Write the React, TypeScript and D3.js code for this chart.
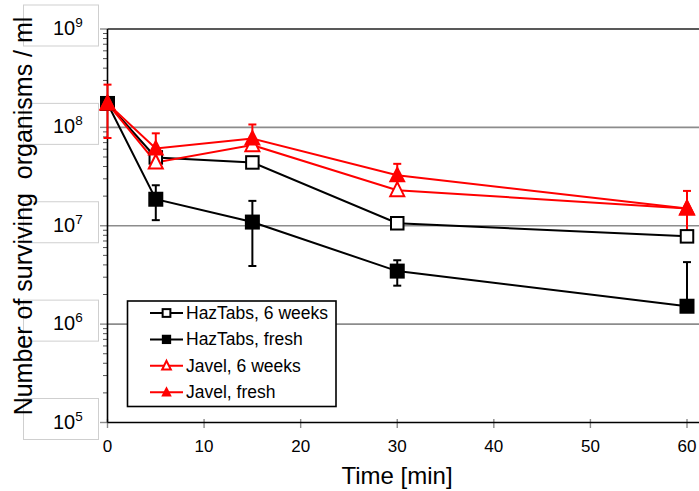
import React from "react";
import * as d3 from "d3";

const times = [0, 5, 15, 30, 60];
const hazTabs6w = [1.75e8, 4.95e7, 4.4e7, 1.06e7, 7.8e6];
const hazTabsFresh = [1.75e8, 1.86e7, 1.09e7, 3.46e6, 1.52e6];
const hazTabsFreshErrPlus = [0, 7.2e6, 7.0e6, 1.0e6, 2.75e6];
const hazTabsFreshErrMinus = [0, 7.2e6, 7.0e6, 1.0e6, 2.75e6];
const javel6w = [1.75e8, 4.4e7, 6.6e7, 2.3e7, 1.5e7];
const javelFresh = [1.75e8, 6.1e7, 7.7e7, 3.26e7, 1.5e7];
const javelFreshErrPlus = [9.7e7, 2.6e7, 3.0e7, 1.0e7, 7.6e6];
const javelFreshErrMinus = [9.7e7, 1.1e7, 1.0e7, 1.0e7, 7.6e6];

const xTicks = [0, 10, 20, 30, 40, 50, 60];
const yDecades = [1e5, 1e6, 1e7, 1e8, 1e9];
const yExponents = ["5", "6", "7", "8", "9"];
const legendLabels = ["HazTabs, 6 weeks", "HazTabs, fresh", "Javel, 6 weeks", "Javel, fresh"];

const FONT = "'Liberation Sans', Arial, sans-serif";

type Series = {
  values: number[];
  errPlus: number[] | null;
  errMinus: number[] | null;
  color: string;
  marker: "squareOpen" | "squareFilled" | "triOpen" | "triFilled";
};

const series: Series[] = [
  { values: hazTabs6w, errPlus: null, errMinus: null, color: "#000", marker: "squareOpen" },
  { values: hazTabsFresh, errPlus: hazTabsFreshErrPlus, errMinus: hazTabsFreshErrMinus, color: "#000", marker: "squareFilled" },
  { values: javel6w, errPlus: null, errMinus: null, color: "#ff0000", marker: "triOpen" },
  { values: javelFresh, errPlus: javelFreshErrPlus, errMinus: javelFreshErrMinus, color: "#ff0000", marker: "triFilled" },
];

function Marker({ kind, x, y, scale, color }: { kind: string; x: number; y: number; scale: number; color: string }) {
  if (kind === "squareOpen") {
    const s = 12.5 * scale;
    return <rect x={x - s / 2} y={y - s / 2} width={s} height={s} fill="#fff" stroke={color} strokeWidth={2} />;
  }
  if (kind === "squareFilled") {
    const s = 15 * scale;
    return <rect x={x - s / 2} y={y - s / 2} width={s} height={s} fill={color} />;
  }
  if (kind === "triOpen") {
    const w = 7 * scale, h1 = 8 * scale, h2 = 6 * scale;
    return (
      <path
        d={`M${x},${y - h1}L${x + w},${y + h2}L${x - w},${y + h2}Z`}
        fill="#fff"
        stroke={color}
        strokeWidth={2}
        strokeLinejoin="miter"
      />
    );
  }
  const w = 8.5 * scale, h1 = 9.5 * scale, h2 = 7 * scale;
  return <path d={`M${x},${y - h1}L${x + w},${y + h2}L${x - w},${y + h2}Z`} fill={color} />;
}

export default function App() {
  const W = 699, H = 491;
  const left = 107.5, right = 699, top = 29, bottom = 422.5;
  const x = d3.scaleLinear().domain([0, 60]).range([107.5, 687]);
  const y = d3.scaleLog().domain([1e5, 1e9]).range([bottom, top]);

  const line = d3
    .line<number>()
    .x((_, i) => x(times[i]))
    .y((v) => y(v));

  const minorTicks: number[] = [];
  for (let e = 5; e < 9; e++) {
    for (let m = 2; m <= 9; m++) minorTicks.push(m * Math.pow(10, e));
  }

  return (
    <svg
      width={W}
      height={H}
      style={{ position: "absolute", left: 0, top: 0, background: "#fff" }}
      fontFamily={FONT}
    >
      <rect x={0} y={0} width={W} height={H} fill="#fff" />
      {/* y label boxes */}
      {yDecades.map((d, i) => (
        <g key={"yl" + i}>
          <rect x={23.5} y={y(d) - 24} width={75} height={41} fill="#fff" stroke="#cfcfcf" strokeWidth={1} />
          <text x={53} y={y(d) + 6} fontSize={20} fill="#000">
            10
            <tspan dy={-8} fontSize={13.5}>
              {yExponents[i]}
            </tspan>
          </text>
        </g>
      ))}
      {/* gridlines */}
      {yDecades.slice(1, 4).map((d, i) => (
        <line key={"g" + i} x1={left} x2={right} y1={y(d)} y2={y(d)} stroke="#8c8c8c" strokeWidth={1.6} />
      ))}
      {/* major y ticks */}
      {yDecades.map((d, i) => (
        <line key={"mt" + i} x1={100} x2={left} y1={y(d)} y2={y(d)} stroke="#8c8c8c" strokeWidth={1.4} />
      ))}
      {/* minor y ticks */}
      {minorTicks.map((d, i) => (
        <line key={"mn" + i} x1={103} x2={left} y1={y(d)} y2={y(d)} stroke="#555" strokeWidth={1} />
      ))}
      {/* x ticks */}
      {xTicks.map((t) => (
        <line key={"xt" + t} x1={x(t)} x2={x(t)} y1={419} y2={428} stroke="#8c8c8c" strokeWidth={1.4} />
      ))}
      {/* frame */}
      <line x1={left} x2={right} y1={top} y2={top} stroke="#222" strokeWidth={1.6} />
      <line x1={left} x2={right} y1={bottom} y2={bottom} stroke="#000" strokeWidth={1.6} />
      <line x1={left} x2={left} y1={top} y2={bottom} stroke="#000" strokeWidth={1.6} />
      {/* x tick labels */}
      {xTicks.map((t) => (
        <text key={"xl" + t} x={x(t)} y={452} fontSize={17} textAnchor="middle" fill="#000">
          {t}
        </text>
      ))}
      <text x={397} y={484} fontSize={24} textAnchor="middle" fill="#000">
        Time [min]
      </text>
      <text transform="translate(32,216) rotate(-90)" fontSize={25} textAnchor="middle" fill="#000" xmlSpace="preserve">
        Number of surviving  organisms / ml
      </text>
      {/* lines and error bars */}
      {series.map((s, si) => (
        <g key={"l" + si}>
          <path d={line(s.values) || ""} fill="none" stroke={s.color} strokeWidth={2} />
          {s.errPlus &&
            s.values.map((v, i) => {
              const ep = s.errPlus![i];
              const em = s.errMinus ? s.errMinus[i] : ep;
              if (!ep && !em) return null;
              const cx = x(times[i]);
              const yu = y(v + ep);
              const lowOk = v - em > 0;
              const yl = lowOk ? y(v - em) : y(v);
              return (
                <g key={"e" + i} stroke={s.color} strokeWidth={2}>
                  <line x1={cx} x2={cx} y1={yu} y2={yl} />
                  <line x1={cx - 4} x2={cx + 4} y1={yu} y2={yu} />
                  {lowOk && <line x1={cx - 4} x2={cx + 4} y1={yl} y2={yl} />}
                </g>
              );
            })}
        </g>
      ))}
      {/* markers */}
      {series.map((s, si) => (
        <g key={"m" + si}>
          {s.values.map((v, i) => (
            <Marker key={i} kind={s.marker} x={x(times[i])} y={y(v)} scale={1} color={s.color} />
          ))}
        </g>
      ))}
      {/* legend */}
      <rect x={127.5} y={301} width={208.5} height={105.5} fill="#fff" stroke="#000" strokeWidth={1.6} />
      {series.map((s, i) => {
        const cy = 313 + i * 26.4;
        return (
          <g key={"lg" + i}>
            <line x1={150} x2={183} y1={cy} y2={cy} stroke={s.color} strokeWidth={2} />
            <Marker kind={s.marker} x={166.5} y={cy} scale={0.62} color={s.color} />
            <text x={186} y={cy + 6} fontSize={17.5} fill="#000">
              {legendLabels[i]}
            </text>
          </g>
        );
      })}
    </svg>
  );
}
